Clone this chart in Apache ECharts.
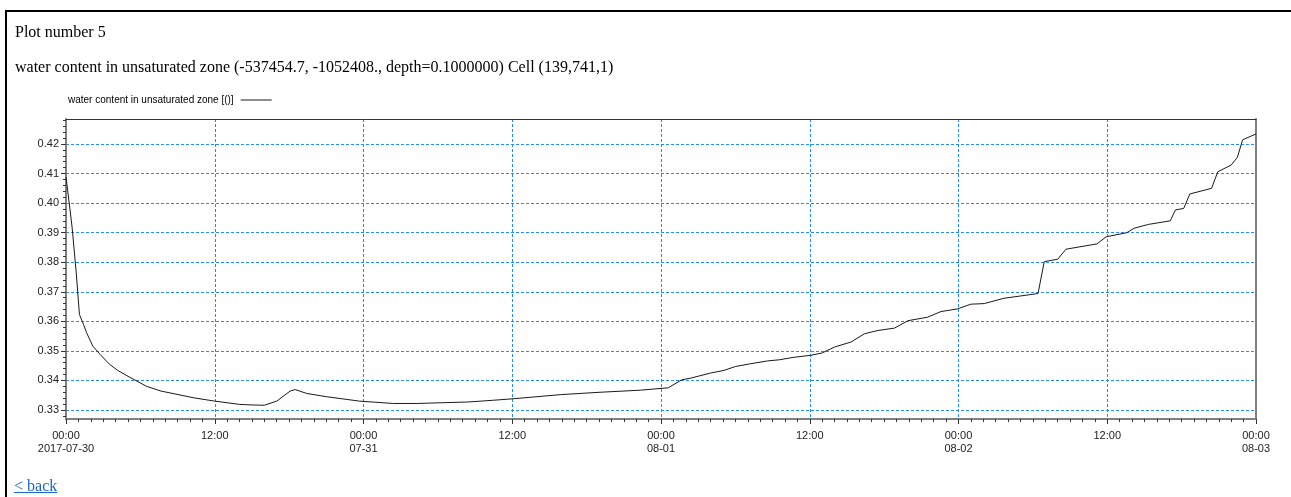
<!DOCTYPE html>
<html>
<head>
<meta charset="utf-8">
<script src="https://cdn.jsdelivr.net/npm/echarts@6/dist/echarts.min.js"></script>
<style>
  html, body { margin: 0; padding: 0; background: #fff; overflow: hidden; }
  #frame { position: absolute; left: 5px; top: 10px; width: 1400px; height: 600px;
           border-top: 2px solid #000; border-left: 2px solid #000; }
  #chart { position: absolute; left: 0; top: 0; width: 1291px; height: 497px; }
  #back { position: absolute; left: 14px; top: 477px; font-family: 'Liberation Serif', serif;
          font-size: 16px; line-height: 18px; color: #1a66cc; text-decoration: underline; }
</style>
</head>
<body>
<div id="frame"></div>
<div id="chart"></div>
<a id="back" href="#">&lt; back</a>
<script>
// Sample times and water content (-) at depth 0.1 for cell (139,741,1)
const times = [
  '2017-07-30 00:00', '2017-07-30 00:20', '2017-07-30 00:30', '2017-07-30 00:50',
  '2017-07-30 01:05', '2017-07-30 01:25', '2017-07-30 01:40', '2017-07-30 02:10',
  '2017-07-30 02:45', '2017-07-30 03:30', '2017-07-30 04:10', '2017-07-30 05:00',
  '2017-07-30 06:30', '2017-07-30 07:40', '2017-07-30 10:20',
  '2017-07-30 12:00', '2017-07-30 14:00', '2017-07-30 15:00', '2017-07-30 16:00',
  '2017-07-30 17:00', '2017-07-30 18:05', '2017-07-30 18:30', '2017-07-30 19:25',
  '2017-07-30 21:00', '2017-07-30 23:40', '2017-07-31 02:25', '2017-07-31 04:15',
  '2017-07-31 04:20', '2017-07-31 08:25', '2017-07-31 10:30', '2017-07-31 12:05',
  '2017-07-31 15:55', '2017-07-31 19:05', '2017-07-31 22:20', '2017-08-01 00:35',
  '2017-08-01 01:40', '2017-08-01 02:25', '2017-08-01 04:00', '2017-08-01 05:05',
  '2017-08-01 06:00', '2017-08-01 07:10', '2017-08-01 08:35', '2017-08-01 09:35',
  '2017-08-01 10:40', '2017-08-01 12:05', '2017-08-01 13:00', '2017-08-01 14:00',
  '2017-08-01 15:20', '2017-08-01 16:25', '2017-08-01 17:30', '2017-08-01 18:50',
  '2017-08-01 19:55', '2017-08-01 21:30', '2017-08-01 22:35', '2017-08-01 23:55',
  '2017-08-02 01:00', '2017-08-02 02:05', '2017-08-02 03:40', '2017-08-02 06:25',
  '2017-08-02 06:55', '2017-08-02 08:00', '2017-08-02 08:40', '2017-08-02 11:10',
  '2017-08-02 11:55', '2017-08-02 13:35', '2017-08-02 14:10', '2017-08-02 15:20',
  '2017-08-02 17:05', '2017-08-02 17:30', '2017-08-02 18:10', '2017-08-02 18:40',
  '2017-08-02 20:25', '2017-08-02 20:55', '2017-08-02 22:00', '2017-08-02 22:30',
  '2017-08-02 22:55', '2017-08-03 00:00'
];
const waterContent = [
  0.4088, 0.3975, 0.3915, 0.3760,
  0.3623, 0.3589, 0.3561, 0.3516,
  0.3488, 0.3455, 0.3434, 0.3414,
  0.3380, 0.3364, 0.3341,
  0.3330, 0.3319, 0.3317, 0.3316,
  0.3330, 0.3364, 0.3369, 0.3356,
  0.3345, 0.3330, 0.3322, 0.3322,
  0.3324, 0.3327, 0.3333, 0.3338,
  0.3352, 0.3360, 0.3367, 0.3375,
  0.3402, 0.3408, 0.3425, 0.3434,
  0.3447, 0.3456, 0.3466, 0.3470,
  0.3478, 0.3485, 0.3493, 0.3513,
  0.3530, 0.3558, 0.3569, 0.3577,
  0.3602, 0.3614, 0.3633, 0.3642,
  0.3658, 0.3660, 0.3678, 0.3694,
  0.3802, 0.3810, 0.3844, 0.3862,
  0.3886, 0.3900, 0.3915, 0.3928,
  0.3940, 0.3977, 0.3982, 0.4031,
  0.4050, 0.4106, 0.4129, 0.4155,
  0.4214, 0.4234
];

const seriesName = 'water content in unsaturated zone [()]';

// Time axis: labelled every 12 hours
const xTickTimes = [
  '2017-07-30 00:00', '2017-07-30 12:00', '2017-07-31 00:00', '2017-07-31 12:00',
  '2017-08-01 00:00', '2017-08-01 12:00', '2017-08-02 00:00', '2017-08-02 12:00',
  '2017-08-03 00:00'
];
const xTickLabels = [
  '00:00\n2017-07-30', '12:00', '00:00\n07-31', '12:00',
  '00:00\n08-01', '12:00', '00:00\n08-02', '12:00',
  '00:00\n08-03'
];

// Value axis
const yTickValues = [0.33, 0.34, 0.35, 0.36, 0.37, 0.38, 0.39, 0.40, 0.41, 0.42];
const yTickLabels = ['0.33', '0.34', '0.35', '0.36', '0.37', '0.38', '0.39', '0.40', '0.41', '0.42'];
const yMin = 0.32695;
const yMax = 0.42846;

// Times are plotted as hours elapsed since the first tick
function toMs(s) {
  const [d, hm] = s.split(' ');
  const [Y, M, D] = d.split('-').map(Number);
  const [h, mi] = hm.split(':').map(Number);
  return Date.UTC(Y, M - 1, D, h, mi);
}
const t0 = toMs(xTickTimes[0]);
const toHours = (s) => (toMs(s) - t0) / 3600000;

const xTickHours = xTickTimes.map(toHours);
const xStart = xTickHours[0];
const xEnd = xTickHours[xTickHours.length - 1];

// hourly minor ticks along the time axis
const hourTicks = [];
for (let h = xStart; h <= xEnd; h += 1) hourTicks.push(h);
// minor ticks every 0.002 on the value axis
const yMinorTicks = [];
for (let k = 164; k <= 214; k++) yMinorTicks.push(k * 2 / 1000);

const gridDash = { color: '#1e8cff', width: 1, type: [3, 2] };
const axisFont = { fontFamily: 'Liberation Sans, Arial, sans-serif', fontSize: 11, color: '#222' };
const frameGray = { color: '#808080', width: 2 };
const bare = { axisTick: { show: false }, axisLabel: { show: false }, splitLine: { show: false } };

const chart = echarts.init(document.getElementById('chart'), null, { renderer: 'canvas' });
chart.setOption({
  animation: false,
  backgroundColor: 'transparent',
  title: [
    { text: 'Plot number 5', left: 15, top: 25, padding: 0,
      textStyle: { fontFamily: 'Liberation Serif, serif', fontSize: 16, fontWeight: 'normal', color: '#000' } },
    { text: 'water content in unsaturated zone (-537454.7, -1052408., depth=0.1000000) Cell (139,741,1)',
      left: 15, top: 60, padding: 0,
      textStyle: { fontFamily: 'Liberation Serif, serif', fontSize: 16, fontWeight: 'normal', color: '#000' } }
  ],
  legend: {
    left: 68, top: 95, padding: 0,
    align: 'right',
    itemWidth: 31, itemHeight: 1,
    data: [{ name: seriesName, icon: 'rect' }],
    textStyle: { fontFamily: 'Liberation Sans, Arial, sans-serif', fontSize: 10, color: '#000', padding: [0, 2, 0, 0] }
  },
  grid: {
    left: 66, right: 35, top: 119, bottom: 78,
    show: true, borderWidth: 0, backgroundColor: '#fff'
  },
  xAxis: [
    {
      type: 'value', min: xStart, max: xEnd, position: 'bottom',
      axisLine: { onZero: false, lineStyle: frameGray },
      axisTick: { customValues: xTickHours, length: 5, lineStyle: { color: '#333' } },
      axisLabel: {
        customValues: xTickHours, margin: 10, lineHeight: 13, ...axisFont,
        formatter: (v) => { const i = xTickHours.findIndex(t => Math.abs(t - v) < 1e-6); return i >= 0 ? xTickLabels[i] : ''; }
      },
      splitLine: { show: true, showMinLine: false, showMaxLine: false, lineStyle: gridDash }
    },
    {
      type: 'value', min: xStart, max: xEnd, position: 'bottom',
      axisLine: { show: false, onZero: false },
      axisTick: { customValues: hourTicks, length: 3, lineStyle: { color: '#333' } },
      axisLabel: { show: false },
      splitLine: { show: false }
    },
    {
      // top edge of the plot frame
      type: 'value', min: xStart, max: xEnd, position: 'top',
      axisLine: { show: true, onZero: false, lineStyle: { color: '#333', width: 1 } },
      ...bare
    }
  ],
  yAxis: [
    {
      type: 'value', min: yMin, max: yMax, position: 'left',
      axisLine: { show: true, onZero: false, lineStyle: frameGray },
      axisTick: { show: true, customValues: yTickValues, length: 5, lineStyle: { color: '#333' } },
      axisLabel: {
        customValues: yTickValues, margin: 7, ...axisFont,
        formatter: (v) => { const i = yTickValues.findIndex(t => Math.abs(t - v) < 1e-9); return i >= 0 ? yTickLabels[i] : ''; }
      },
      splitLine: { show: true, lineStyle: gridDash }
    },
    {
      type: 'value', min: yMin, max: yMax, position: 'left',
      axisLine: { show: false, onZero: false },
      axisTick: { show: true, customValues: yMinorTicks, length: 3, lineStyle: { color: '#333' } },
      axisLabel: { show: false },
      splitLine: { show: false }
    },
    {
      // right edge of the plot frame
      type: 'value', min: yMin, max: yMax, position: 'right',
      axisLine: { show: true, onZero: false, lineStyle: frameGray },
      ...bare
    }
  ],
  series: [{
    name: seriesName,
    type: 'line',
    xAxisIndex: 0, yAxisIndex: 0,
    symbol: 'none',
    data: times.map((t, i) => [toHours(t), waterContent[i]]),
    itemStyle: { color: '#1a1a1a' },
    lineStyle: { color: '#1a1a1a', width: 1 }
  }]
});
</script>
</body>
</html>
